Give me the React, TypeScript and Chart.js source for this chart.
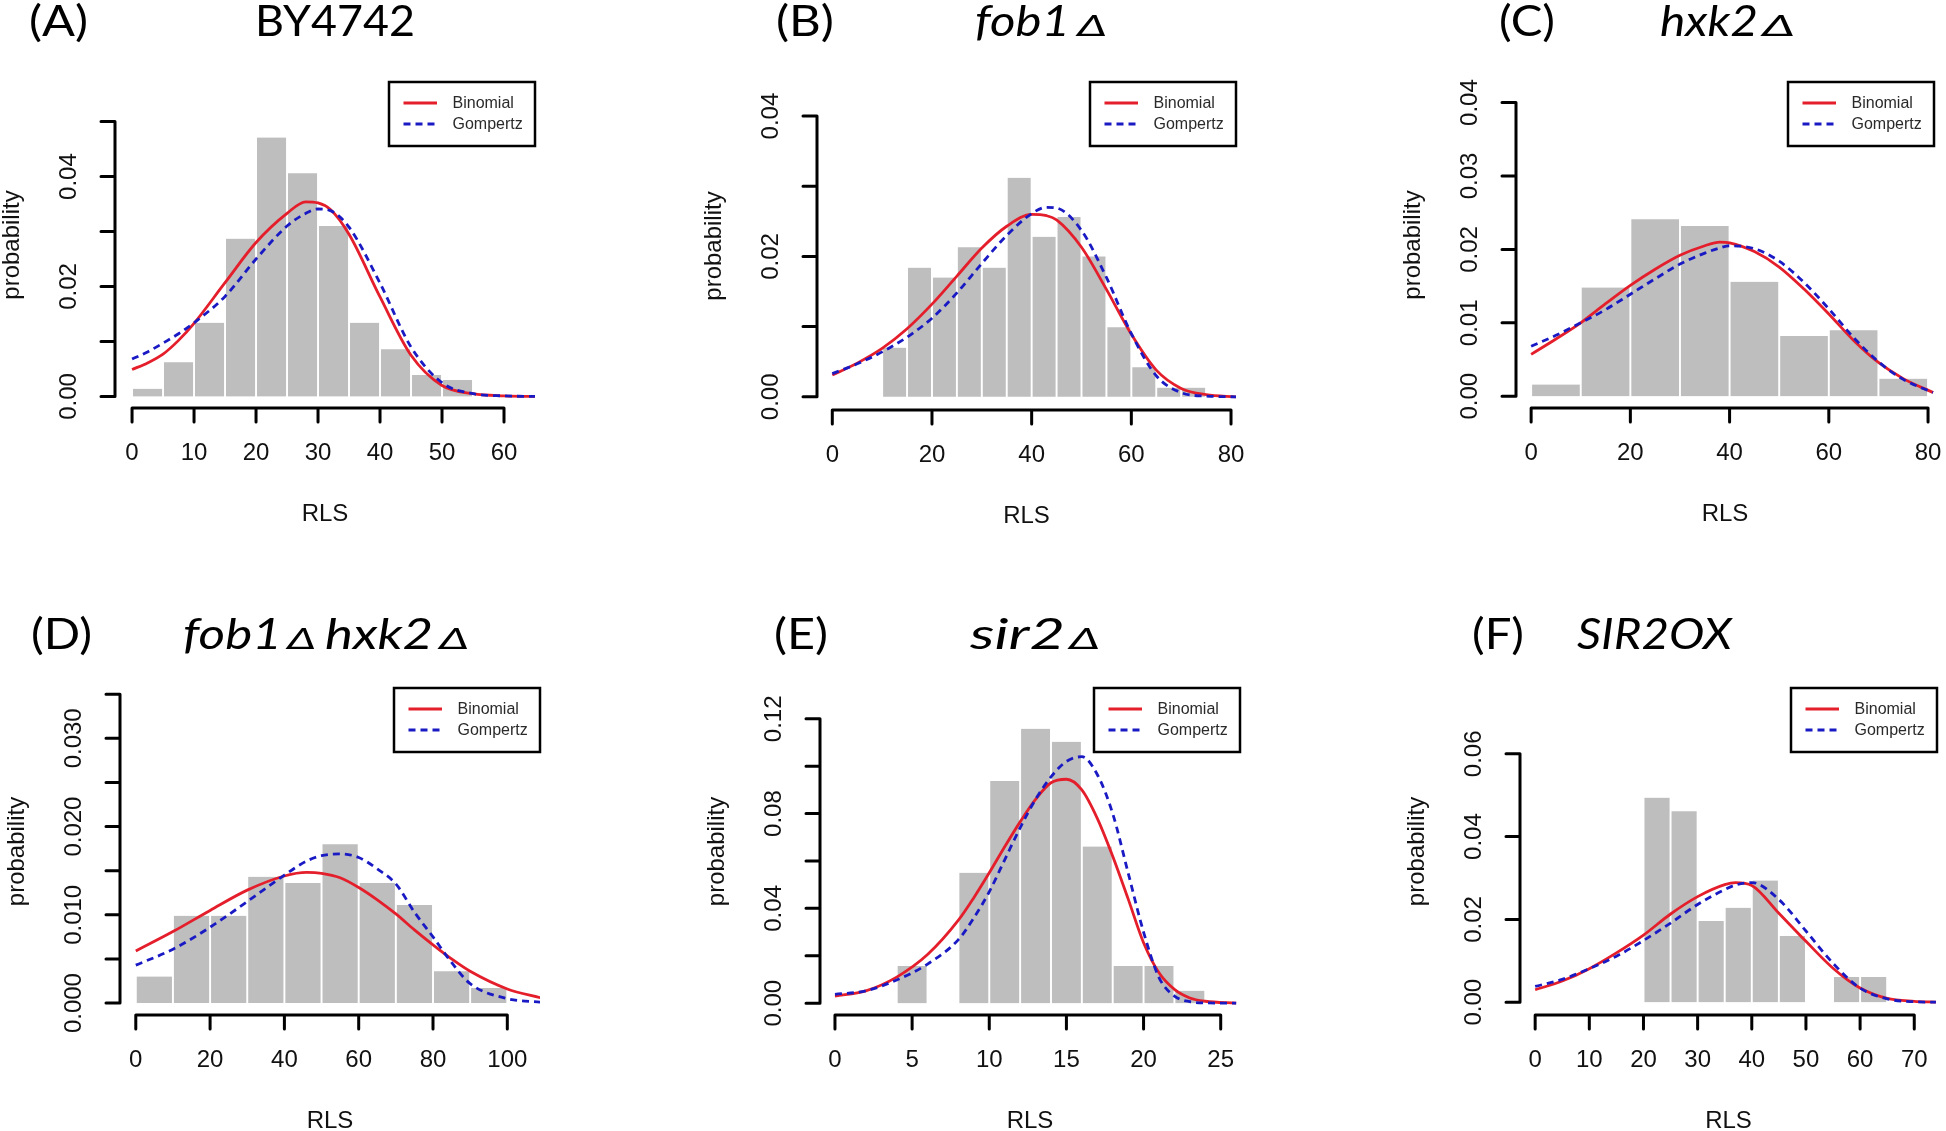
import React, { useEffect, useRef } from 'react';
import { Chart, registerables } from 'chart.js';
Chart.register(...registerables);

// ---------------- DATA ----------------
// Panel A — BY4742
const histBreaksA = [0, 5, 10, 15, 20, 25, 30, 35, 40, 45, 50, 55];
const histDensityA = [0.0014, 0.0062, 0.0134, 0.0287, 0.0471, 0.0406, 0.031, 0.0134, 0.0086, 0.0039, 0.003];
const curveRlsA = [0, 2.5, 5, 7.5, 10, 15, 20, 25, 28, 30, 32, 35, 40, 45, 50, 55, 60, 65];
const binomialA = [0.0049, 0.0061, 0.0077, 0.0102, 0.0133, 0.0207, 0.028, 0.0333, 0.0354, 0.0352, 0.034, 0.0295, 0.0181, 0.0075, 0.002, 0.0005, 0.0001, 0.0];
const gompertzA = [0.0068, 0.0081, 0.0097, 0.0114, 0.0134, 0.0182, 0.025, 0.031, 0.0333, 0.0341, 0.0338, 0.0308, 0.0206, 0.009, 0.0025, 0.0005, 0.0001, 0.0];
const xTicksA = [0, 10, 20, 30, 40, 50, 60];
const yTicksA = [0, 0.01, 0.02, 0.03, 0.04, 0.05];
const yLabelsA = ['0.00', '', '0.02', '', '0.04', ''];

// Panel B — fob1Δ
const histBreaksB = [10, 15, 20, 25, 30, 35, 40, 45, 50, 55, 60, 65, 70, 75];
const histDensityB = [0.007, 0.0184, 0.017, 0.0213, 0.0184, 0.0312, 0.0228, 0.0256, 0.02, 0.0099, 0.0042, 0.0013, 0.0013];
const curveRlsB = [0, 5, 10, 15, 20, 25, 30, 35, 40, 43, 45, 50, 55, 60, 65, 70, 75, 81];
const binomialB = [0.0031, 0.0048, 0.0069, 0.0097, 0.0132, 0.0172, 0.0212, 0.0243, 0.026, 0.0258, 0.0252, 0.0213, 0.0153, 0.0089, 0.0038, 0.0012, 0.0003, 0.0];
const gompertzB = [0.0033, 0.0047, 0.0064, 0.0085, 0.0112, 0.0148, 0.019, 0.023, 0.0261, 0.027, 0.0269, 0.0237, 0.017, 0.009, 0.003, 0.0006, 0.0001, 0.0];
const xTicksB = [0, 20, 40, 60, 80];
const yTicksB = [0, 0.01, 0.02, 0.03, 0.04];
const yLabelsB = ['0.00', '', '0.02', '', '0.04'];

// Panel C — hxk2Δ
const histBreaksC = [0, 10, 20, 30, 40, 50, 60, 70, 80];
const histDensityC = [0.0016, 0.0148, 0.0241, 0.0232, 0.0156, 0.0082, 0.009, 0.0024];
const curveRlsC = [0, 5, 10, 15, 20, 25, 30, 35, 38, 40, 45, 50, 55, 60, 65, 70, 75, 81];
const binomialC = [0.0057, 0.0078, 0.01, 0.0126, 0.0151, 0.0173, 0.0192, 0.0205, 0.021, 0.0209, 0.0197, 0.0176, 0.0146, 0.0112, 0.0076, 0.0046, 0.0024, 0.0005];
const gompertzC = [0.0068, 0.0083, 0.01, 0.0118, 0.0139, 0.016, 0.018, 0.0195, 0.0202, 0.0205, 0.0201, 0.0184, 0.0155, 0.0119, 0.008, 0.0047, 0.0023, 0.0005];
const xTicksC = [0, 20, 40, 60, 80];
const yTicksC = [0, 0.01, 0.02, 0.03, 0.04];
const yLabelsC = ['0.00', '0.01', '0.02', '0.03', '0.04'];

// Panel D — fob1Δ hxk2Δ
const histBreaksD = [0, 10, 20, 30, 40, 50, 60, 70, 80, 90, 100];
const histDensityD = [0.003, 0.0099, 0.0099, 0.0143, 0.0136, 0.018, 0.0136, 0.0111, 0.0036, 0.0017];
const curveRlsD = [0, 10, 20, 30, 40, 46, 50, 55, 60, 65, 70, 75, 80, 85, 90, 100, 109];
const binomialD = [0.0059, 0.0081, 0.0105, 0.0128, 0.0144, 0.0148, 0.0147, 0.0142, 0.0131, 0.0117, 0.0101, 0.0083, 0.0066, 0.005, 0.0036, 0.0016, 0.0006];
const gompertzD = [0.0043, 0.0061, 0.0086, 0.0115, 0.0145, 0.0161, 0.0167, 0.0169, 0.0165, 0.0152, 0.0135, 0.0103, 0.0075, 0.0046, 0.0022, 0.0005, 0.0001];
const xTicksD = [0, 20, 40, 60, 80, 100];
const yTicksD = [0, 0.005, 0.01, 0.015, 0.02, 0.025, 0.03, 0.035];
const yLabelsD = ['0.000', '', '0.010', '', '0.020', '', '0.030', ''];

// Panel E — sir2Δ
const histBreaksE = [4, 6, 8, 10, 12, 14, 16, 18, 20, 22, 24];
const histDensityE = [0.0157, 0, 0.055, 0.0937, 0.1158, 0.1103, 0.0661, 0.0157, 0.0157, 0.0052];
const curveRlsE = [0, 2, 4, 6, 8, 9, 10, 11, 12, 13, 14, 15, 16, 17, 18, 19, 20, 21, 22, 23, 24, 26];
const binomialE = [0.003, 0.0052, 0.011, 0.0205, 0.035, 0.0445, 0.055, 0.066, 0.0765, 0.086, 0.093, 0.0945, 0.09, 0.078, 0.062, 0.044, 0.0255, 0.0128, 0.0058, 0.0022, 0.0008, 0.0];
const gompertzE = [0.0037, 0.0052, 0.0098, 0.0165, 0.0268, 0.036, 0.047, 0.0605, 0.074, 0.086, 0.0955, 0.102, 0.104, 0.0965, 0.08, 0.055, 0.03, 0.0108, 0.003, 0.0006, 0.0001, 0.0];
const xTicksE = [0, 5, 10, 15, 20, 25];
const yTicksE = [0, 0.02, 0.04, 0.06, 0.08, 0.1, 0.12];
const yLabelsE = ['0.00', '', '0.04', '', '0.08', '', '0.12'];

// Panel F — SIR2OX
const histBreaksF = [20, 25, 30, 35, 40, 45, 50, 55, 60, 65];
const histDensityF = [0.0494, 0.0461, 0.0196, 0.0228, 0.0294, 0.016, 0, 0.0061, 0.0061];
const curveRlsF = [0, 5, 10, 15, 20, 25, 30, 35, 37, 40, 45, 50, 55, 60, 65, 70, 74];
const binomialF = [0.003, 0.0051, 0.0081, 0.0119, 0.0162, 0.0213, 0.0255, 0.0284, 0.0289, 0.0282, 0.0215, 0.0147, 0.0082, 0.0034, 0.0009, 0.0002, 0.0];
const gompertzF = [0.0038, 0.0055, 0.0081, 0.0111, 0.0149, 0.0191, 0.0236, 0.0272, 0.0283, 0.0289, 0.0248, 0.0172, 0.0094, 0.0034, 0.0008, 0.0001, 0.0];
const xTicksF = [0, 10, 20, 30, 40, 50, 60, 70];
const yTicksF = [0, 0.02, 0.04, 0.06];
const yLabelsF = ['0.00', '0.02', '0.04', '0.06'];

const seriesNames = ['Binomial', 'Gompertz'];
const xAxisTitle = 'RLS';
const yAxisTitle = 'probability';
const panelLabels = ['(A)', '(B)', '(C)', '(D)', '(E)', '(F)'];

// ---------------- STYLE / LAYOUT ----------------
const RED = '#E41E2B';
const BLUE = '#1A1AC4';
const GRAY = '#BEBEBE';
const PAD = { left: 125, right: 10, top: 15, bottom: 125 };
const TICK_FONT = '24px "Liberation Sans", Arial, Helvetica, sans-serif';
const LEG_FONT = '16px "Liberation Sans", Arial, Helvetica, sans-serif';
const TITLE_FONT = "Lato, 'Open Sans', 'Noto Sans', sans-serif";

type PanelCfg = {
  box: { L: number; T: number; R: number; B: number };
  xRange: [number, number];
  yRange: [number, number];
  breaks: number[];
  density: number[];
  rls: number[];
  binom: number[];
  gomp: number[];
  xTicks: number[];
  yTicks: number[];
  yLabels: string[];
};

const panels: PanelCfg[] = [
  { box: { L: 115, T: 82, R: 535, B: 408 }, xRange: [-2.75, 65], yRange: [-0.0021, 0.0572],
    breaks: histBreaksA, density: histDensityA, rls: curveRlsA, binom: binomialA, gomp: gompertzA,
    xTicks: xTicksA, yTicks: yTicksA, yLabels: yLabelsA },
  { box: { L: 817, T: 82, R: 1236, B: 410 }, xRange: [-3.07, 81], yRange: [-0.00188, 0.04485],
    breaks: histBreaksB, density: histDensityB, rls: curveRlsB, binom: binomialB, gomp: gompertzB,
    xTicks: xTicksB, yTicks: yTicksB, yLabels: yLabelsB },
  { box: { L: 1516, T: 82, R: 1934, B: 408 }, xRange: [-3.05, 81.2], yRange: [-0.0016, 0.0428],
    breaks: histBreaksC, density: histDensityC, rls: curveRlsC, binom: binomialC, gomp: gompertzC,
    xTicks: xTicksC, yTicks: yTicksC, yLabels: yLabelsC },
  { box: { L: 120, T: 688, R: 540, B: 1015 }, xRange: [-4.25, 108.8], yRange: [-0.00135, 0.0357],
    breaks: histBreaksD, density: histDensityD, rls: curveRlsD, binom: binomialD, gomp: gompertzD,
    xTicks: xTicksD, yTicks: yTicksD, yLabels: yLabelsD },
  { box: { L: 820, T: 688, R: 1240, B: 1015 }, xRange: [-0.97, 26.25], yRange: [-0.005, 0.133],
    breaks: histBreaksE, density: histDensityE, rls: curveRlsE, binom: binomialE, gomp: gompertzE,
    xTicks: xTicksE, yTicks: yTicksE, yLabels: yLabelsE },
  { box: { L: 1520, T: 688, R: 1937, B: 1015 }, xRange: [-2.8, 74.2], yRange: [-0.0031, 0.0759],
    breaks: histBreaksF, density: histDensityF, rls: curveRlsF, binom: binomialF, gomp: gompertzF,
    xTicks: xTicksF, yTicks: yTicksF, yLabels: yLabelsF },
];

// title text pieces
type Piece = { t: string; x: number; w: number; it: boolean; d?: boolean };
const titleRows: { y: number; pieces: Piece[] }[] = [
  { y: 36, pieces: [
    { t: panelLabels[0], x: 29, w: 59, it: false },
    { t: 'BY4742', x: 255, w: 160, it: false },
    { t: panelLabels[1], x: 776, w: 58, it: false },
    { t: 'fob1', x: 975, w: 95, it: true },
    { t: '\u0394', x: 1077, w: 30, it: true, d: true },
    { t: panelLabels[2], x: 1499, w: 56, it: false },
    { t: 'hxk2', x: 1660, w: 98, it: true },
    { t: '\u0394', x: 1762, w: 33, it: true, d: true },
  ] },
  { y: 649, pieces: [
    { t: panelLabels[3], x: 31, w: 61, it: false },
    { t: 'fob1', x: 183, w: 99, it: true },
    { t: '\u0394', x: 287, w: 29, it: true, d: true },
    { t: 'hxk2', x: 325, w: 108, it: true },
    { t: '\u0394', x: 439, w: 30, it: true, d: true },
    { t: panelLabels[4], x: 774, w: 54, it: false },
    { t: 'sir2', x: 970, w: 95, it: true },
    { t: '\u0394', x: 1069, w: 31, it: true, d: true },
    { t: panelLabels[5], x: 1472, w: 52, it: false },
    { t: 'SIR2OX', x: 1577, w: 155, it: true },
  ] },
];

// ---------------- PLUGIN: R-style axes + legend ----------------
const rPlot = {
  id: 'rPlot',
  afterDatasetsDraw(chart: any, _args: any, opts: any) {
    const { ctx, chartArea: a, scales } = chart;
    const xs = scales.x;
    const ys = scales.y;
    const xt: number[] = opts.xTicks;
    const yt: number[] = opts.yTicks;
    const yl: string[] = opts.yLabels;
    const TL = 14;
    ctx.save();
    ctx.strokeStyle = '#000';
    ctx.fillStyle = '#111';
    ctx.lineWidth = 3;
    ctx.lineCap = 'round';
    // x axis
    const axY = a.bottom;
    ctx.beginPath();
    ctx.moveTo(xs.getPixelForValue(xt[0]), axY);
    ctx.lineTo(xs.getPixelForValue(xt[xt.length - 1]), axY);
    for (const v of xt) {
      const px = xs.getPixelForValue(v);
      ctx.moveTo(px, axY);
      ctx.lineTo(px, axY + TL);
    }
    ctx.stroke();
    ctx.font = TICK_FONT;
    ctx.textAlign = 'center';
    ctx.textBaseline = 'middle';
    for (const v of xt) {
      ctx.fillText(String(v), xs.getPixelForValue(v), axY + 45);
    }
    // y axis
    const axX = a.left;
    ctx.beginPath();
    ctx.moveTo(axX, ys.getPixelForValue(yt[0]));
    ctx.lineTo(axX, ys.getPixelForValue(yt[yt.length - 1]));
    for (const v of yt) {
      const py = ys.getPixelForValue(v);
      ctx.moveTo(axX, py);
      ctx.lineTo(axX - TL, py);
    }
    ctx.stroke();
    yt.forEach((v, i) => {
      if (!yl[i]) return;
      ctx.save();
      ctx.translate(axX - 45.5, ys.getPixelForValue(v));
      ctx.rotate(-Math.PI / 2);
      ctx.fillText(yl[i], 0, 0);
      ctx.restore();
    });
    // axis titles
    ctx.fillText(opts.xTitle, (a.left + a.right) / 2, a.bottom + 106);
    ctx.save();
    ctx.translate(a.left - 103, (a.top + a.bottom) / 2);
    ctx.rotate(-Math.PI / 2);
    ctx.fillText(opts.yTitle, 0, 0);
    ctx.restore();
    // legend (top-right)
    const LW = 146, LH = 64;
    const lx = a.right - LW, ly = a.top;
    ctx.fillStyle = '#fff';
    ctx.fillRect(lx, ly, LW, LH);
    ctx.lineWidth = 2.5;
    ctx.lineCap = 'butt';
    ctx.strokeStyle = '#000';
    ctx.strokeRect(lx, ly, LW, LH);
    ctx.font = LEG_FONT;
    ctx.textAlign = 'left';
    (opts.legendOrder as string[]).forEach((name, i) => {
      const ds = chart.data.datasets.find((d: any) => d.label === name);
      if (!ds) return;
      const ry = ly + 21 + i * 21;
      ctx.beginPath();
      ctx.strokeStyle = ds.borderColor;
      ctx.lineWidth = 2.8;
      ctx.setLineDash(ds.borderDash || []);
      ctx.moveTo(lx + 14.5, ry);
      ctx.lineTo(lx + 48, ry);
      ctx.stroke();
      ctx.setLineDash([]);
      ctx.fillStyle = '#2a2a2a';
      ctx.fillText(name, lx + 63.5, ry + 1);
    });
    ctx.restore();
  },
};

function Panel({ cfg }: { cfg: PanelCfg }) {
  const ref = useRef<HTMLCanvasElement>(null);
  const { L, T, R, B } = cfg.box;
  const w = R - L + PAD.left + PAD.right;
  const h = B - T + PAD.top + PAD.bottom;
  useEffect(() => {
    const bars = cfg.density.map((d, i) => ({ x: (cfg.breaks[i] + cfg.breaks[i + 1]) / 2, y: d }));
    const binomPts = cfg.rls.map((x, i) => ({ x, y: cfg.binom[i] }));
    const gompPts = cfg.rls.map((x, i) => ({ x, y: cfg.gomp[i] }));
    const clearTicks = (s: any) => { s.ticks = []; };
    const chart = new Chart(ref.current as HTMLCanvasElement, {
      type: 'bar',
      data: {
        datasets: [
          {
            type: 'line', label: seriesNames[1], data: gompPts, borderColor: BLUE, borderWidth: 2.8,
            borderDash: [7, 5], pointRadius: 0, cubicInterpolationMode: 'monotone', fill: false, order: 0,
          } as any,
          {
            type: 'line', label: seriesNames[0], data: binomPts, borderColor: RED, borderWidth: 2.8,
            pointRadius: 0, cubicInterpolationMode: 'monotone', fill: false, order: 1,
          } as any,
          {
            type: 'bar', label: 'hist', data: bars, backgroundColor: GRAY, borderColor: '#ffffff',
            borderWidth: { left: 1.3, right: 1.3, top: 0, bottom: 0 }, borderSkipped: false,
            barPercentage: 1, categoryPercentage: 1, order: 2,
          } as any,
        ],
      },
      options: {
        responsive: false,
        animation: false,
        devicePixelRatio: 1,
        events: [],
        layout: { padding: PAD },
        plugins: {
          legend: { display: false },
          tooltip: { enabled: false },
          rPlot: {
            xTicks: cfg.xTicks, yTicks: cfg.yTicks, yLabels: cfg.yLabels,
            xTitle: xAxisTitle, yTitle: yAxisTitle, legendOrder: seriesNames,
          },
        } as any,
        scales: {
          x: {
            type: 'linear', display: false, min: cfg.xRange[0], max: cfg.xRange[1],
            offset: false, bounds: 'data', afterBuildTicks: clearTicks,
          } as any,
          y: {
            type: 'linear', display: false, min: cfg.yRange[0], max: cfg.yRange[1],
            bounds: 'data', afterBuildTicks: clearTicks,
          } as any,
        },
      },
      plugins: [rPlot as any],
    });
    return () => chart.destroy();
  }, []);
  return (
    <canvas
      ref={ref}
      width={w}
      height={h}
      style={{ position: 'absolute', left: L - PAD.left, top: T - PAD.top, width: w, height: h }}
    />
  );
}

export default function App() {
  return (
    <div style={{ position: 'fixed', left: 0, top: 0, width: 1946, height: 1131, background: '#fff', overflow: 'hidden' }}>
      {panels.map((p, i) => (
        <Panel key={i} cfg={p} />
      ))}
      <svg width={1946} height={1131} style={{ position: 'absolute', left: 0, top: 0, pointerEvents: 'none' }}>
        {titleRows.map((row, ri) => (
          <g key={ri} fontFamily={TITLE_FONT} fill="#000">
            {row.pieces.map((p, pi) => (
              <text
                key={pi}
                x={p.x}
                y={row.y}
                fontSize={p.d ? 28 : 42}
                fontStyle={p.it ? 'italic' : 'normal'}
                textLength={p.w}
                lengthAdjust="spacingAndGlyphs"
              >
                {p.t}
              </text>
            ))}
          </g>
        ))}
      </svg>
    </div>
  );
}
